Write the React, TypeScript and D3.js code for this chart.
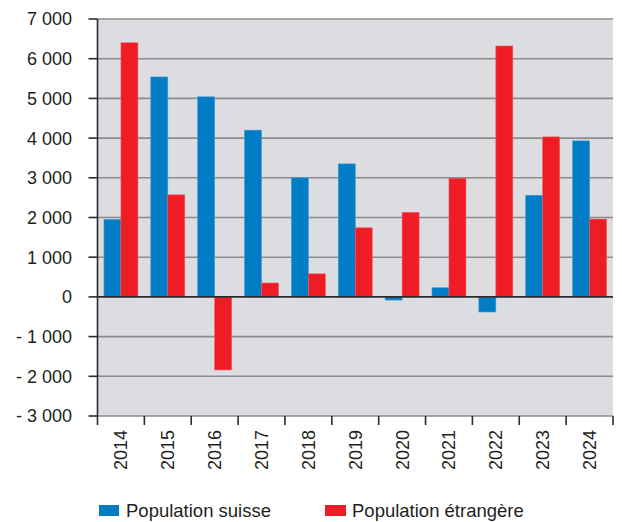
import * as d3 from "d3";

const years = ["2014", "2015", "2016", "2017", "2018", "2019", "2020", "2021", "2022", "2023", "2024"];
const suisse = [1950, 5540, 5040, 4200, 3000, 3350, -80, 230, -380, 2560, 3930];
const etrangere = [6400, 2570, -1840, 350, 580, 1740, 2130, 2990, 6320, 4030, 1960];
const yTicks = [-3000, -2000, -1000, 0, 1000, 2000, 3000, 4000, 5000, 6000, 7000];
const seriesNames = ["Population suisse", "Population étrangère"];

const W = 622;
const H = 522;
const left = 97.5;
const right = 613;
const top = 19;
const bottom = 416;
const blue = "#007dc5";
const red = "#ee1c25";
const font = "'Liberation Sans', Arial, sans-serif";

const fmt = (v: number) => {
  const s = d3.format(",")(Math.abs(v)).replace(/,/g, " ");
  return v < 0 ? "- " + s : s;
};

const App = () => {
  const x = d3.scaleBand().domain(years).range([left, right]);
  const inner = d3.scaleBand().domain(["s", "e"]).range([0, x.bandwidth()]).paddingOuter(0.38);
  const y = d3.scaleLinear().domain([-3000, 7000]).range([bottom, top]);

  const bar = (val: number, year: string, key: string, color: string) => (
    <rect
      key={key + year}
      x={(x(year) as number) + (inner(key) as number)}
      y={y(Math.max(0, val))}
      width={inner.bandwidth()}
      height={Math.abs(y(val) - y(0))}
      fill={color}
      stroke={color === blue ? "#3f9bd3" : "#f25a60"}
      strokeWidth={0.6}
    />
  );

  return (
    <svg width={W} height={H} style={{ position: "absolute", left: 0, top: 0, fontFamily: font }}>
      <rect x={left} y={top} width={right - left} height={bottom - top} fill="#dcdde0" />
      {yTicks.filter((t) => t !== 0).map((t) => (
        <line key={t} x1={left} x2={right} y1={y(t)} y2={y(t)} stroke="#8c8c8c" strokeWidth={1.6} />
      ))}
      {years.map((yr, i) => bar(suisse[i], yr, "s", blue))}
      {years.map((yr, i) => bar(etrangere[i], yr, "e", red))}
      <line x1={left} x2={right} y1={y(0)} y2={y(0)} stroke="#2b2b2b" strokeWidth={1.6} />
      <line x1={left} x2={left} y1={top} y2={bottom + 9} stroke="#2b2b2b" strokeWidth={1.6} />
      {yTicks.map((t) => (
        <g key={t}>
          <line x1={left - 9} x2={left} y1={y(t)} y2={y(t)} stroke="#2b2b2b" strokeWidth={1.6} />
          <text x={72} y={y(t)} dy="0.36em" textAnchor="end" fontSize={18} fill="#231f20">
            {fmt(t)}
          </text>
        </g>
      ))}
      {years.map((yr) => (
        <line
          key={"t" + yr}
          x1={(x(yr) as number) + x.bandwidth()}
          x2={(x(yr) as number) + x.bandwidth()}
          y1={bottom}
          y2={bottom + 9}
          stroke="#2b2b2b"
          strokeWidth={1.6}
        />
      ))}
      {years.map((yr) => {
        const cx = (x(yr) as number) + x.bandwidth() / 2;
        return (
          <text
            key={"l" + yr}
            transform={`translate(${cx},${bottom + 14}) rotate(-90)`}
            dy="0.36em"
            textAnchor="end"
            fontSize={18}
            fill="#231f20"
          >
            {yr}
          </text>
        );
      })}
      <rect x={99} y={505} width={20} height={11} fill={blue} />
      <text x={126} y={517} fontSize={18.5} fill="#231f20">{seriesNames[0]}</text>
      <rect x={325} y={505} width={21} height={11} fill={red} />
      <text x={352} y={517} fontSize={18.5} fill="#231f20">{seriesNames[1]}</text>
    </svg>
  );
};

export default App;
